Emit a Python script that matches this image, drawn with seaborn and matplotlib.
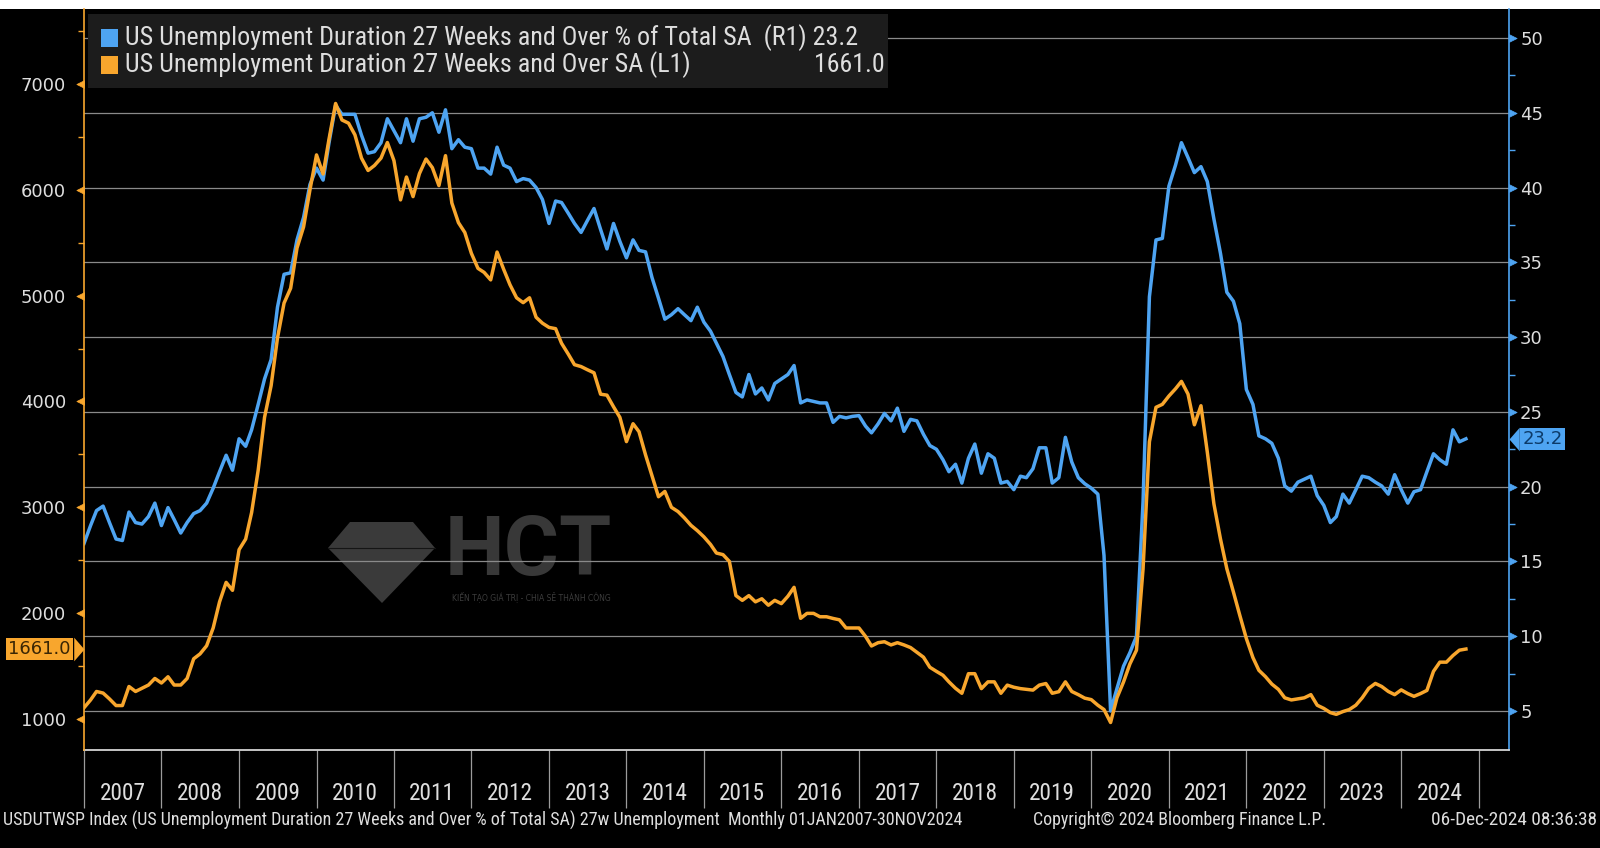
import numpy as np
import pandas as pd
import matplotlib
matplotlib.use("Agg")
import matplotlib.pyplot as plt
import matplotlib.dates as mdates
from matplotlib.path import Path
from matplotlib.markers import MarkerStyle
from matplotlib.patches import Rectangle, Polygon
from matplotlib import font_manager
import seaborn as sns

# ---------------- data (monthly, Jan 2007 - Nov 2024) ----------------
months = pd.date_range("2007-01-01", "2024-11-01", freq="MS")

# US Unemployment Duration 27 Weeks and Over SA (thousands) - left axis
lvl_2007 = [1106, 1180, 1260, 1245, 1190, 1127, 1127, 1307, 1260, 1290, 1321, 1383]
lvl_2008 = [1340, 1399, 1321, 1321, 1383, 1569, 1615, 1692, 1861, 2107, 2291, 2216]
lvl_2009 = [2600, 2700, 2950, 3350, 3850, 4150, 4600, 4930, 5070, 5450, 5650, 6000]
lvl_2010 = [6330, 6150, 6480, 6816, 6660, 6630, 6520, 6300, 6183, 6230, 6300, 6447]
lvl_2011 = [6276, 5905, 6121, 5936, 6153, 6291, 6210, 6040, 6323, 5875, 5690, 5597]
lvl_2012 = [5400, 5258, 5220, 5149, 5412, 5250, 5103, 4980, 4934, 4980, 4796, 4740]
lvl_2013 = [4700, 4688, 4550, 4450, 4348, 4330, 4300, 4271, 4069, 4060, 3950, 3850]
lvl_2014 = [3621, 3790, 3715, 3495, 3300, 3100, 3150, 3000, 2960, 2900, 2830, 2780]
lvl_2015 = [2721, 2650, 2568, 2553, 2489, 2166, 2121, 2166, 2107, 2136, 2075, 2121]
lvl_2016 = [2090, 2160, 2244, 1951, 1998, 1998, 1966, 1966, 1950, 1937, 1860, 1860]
lvl_2017 = [1860, 1780, 1690, 1721, 1730, 1700, 1721, 1700, 1675, 1630, 1584, 1489]
lvl_2018 = [1450, 1413, 1351, 1290, 1243, 1428, 1428, 1287, 1351, 1351, 1243, 1320]
lvl_2019 = [1300, 1287, 1280, 1273, 1320, 1335, 1243, 1258, 1351, 1260, 1230, 1197]
lvl_2020 = [1183, 1130, 1089, 967, 1200, 1350, 1520, 1650, 2418, 3620, 3945, 3973]
lvl_2021 = [4052, 4120, 4190, 4070, 3780, 3960, 3520, 3033, 2700, 2420, 2200, 1980]
lvl_2022 = [1760, 1580, 1460, 1400, 1330, 1280, 1200, 1180, 1190, 1200, 1230, 1130]
lvl_2023 = [1100, 1060, 1044, 1070, 1089, 1130, 1200, 1290, 1336, 1307, 1260, 1230]
lvl_2024 = [1275, 1240, 1214, 1240, 1270, 1450, 1537, 1537, 1600, 1650, 1661]

# US Unemployment Duration 27 Weeks and Over % of Total SA - right axis
pct_2007 = [16.2, 17.4, 18.4, 18.7, 17.6, 16.5, 16.4, 18.3, 17.6, 17.5, 18.0, 18.9]
pct_2008 = [17.4, 18.6, 17.8, 16.9, 17.6, 18.2, 18.4, 18.9, 19.9, 21.0, 22.1, 21.1]
pct_2009 = [23.2, 22.7, 23.8, 25.5, 27.2, 28.5, 32.0, 34.2, 34.3, 36.5, 38.0, 40.2]
pct_2010 = [41.3, 40.5, 43.0, 45.5, 44.9, 44.9, 44.9, 43.5, 42.3, 42.4, 43.0, 44.6]
pct_2011 = [43.8, 43.0, 44.6, 43.1, 44.6, 44.7, 45.0, 43.7, 45.2, 42.6, 43.2, 42.7]
pct_2012 = [42.6, 41.3, 41.3, 40.9, 42.7, 41.5, 41.3, 40.4, 40.6, 40.5, 40.0, 39.2]
pct_2013 = [37.6, 39.1, 39.0, 38.3, 37.6, 37.0, 37.8, 38.6, 37.2, 35.9, 37.6, 36.4]
pct_2014 = [35.3, 36.5, 35.8, 35.7, 34.0, 32.6, 31.2, 31.5, 31.9, 31.5, 31.1, 32.0]
pct_2015 = [31.0, 30.4, 29.6, 28.7, 27.5, 26.3, 26.0, 27.5, 26.2, 26.6, 25.8, 26.9]
pct_2016 = [27.2, 27.5, 28.1, 25.6, 25.8, 25.7, 25.6, 25.6, 24.3, 24.7, 24.6, 24.7]
pct_2017 = [24.75, 24.05, 23.6, 24.2, 24.9, 24.4, 25.25, 23.7, 24.5, 24.4, 23.5, 22.75]
pct_2018 = [22.5, 21.8, 21.0, 21.5, 20.24, 21.9, 22.85, 20.9, 22.2, 21.9, 20.24, 20.35]
pct_2019 = [19.8, 20.7, 20.6, 21.2, 22.6, 22.6, 20.24, 20.6, 23.3, 21.65, 20.6, 20.2]
pct_2020 = [19.9, 19.5, 15.4, 5.0, 6.5, 8.0, 8.9, 10.0, 19.0, 32.7, 36.5, 36.6]
pct_2021 = [40.1, 41.5, 43.0, 42.0, 41.0, 41.4, 40.4, 37.9, 35.6, 33.0, 32.4, 30.9]
pct_2022 = [26.5, 25.5, 23.4, 23.2, 22.9, 21.9, 20.05, 19.7, 20.3, 20.5, 20.7, 19.4]
pct_2023 = [18.75, 17.6, 18.0, 19.5, 18.9, 19.8, 20.7, 20.6, 20.3, 20.05, 19.5, 20.8]
pct_2024 = [19.8, 18.9, 19.66, 19.8, 21.0, 22.2, 21.8, 21.5, 23.8, 23.0, 23.2]

lvl = sum([lvl_2007, lvl_2008, lvl_2009, lvl_2010, lvl_2011, lvl_2012, lvl_2013, lvl_2014,
           lvl_2015, lvl_2016, lvl_2017, lvl_2018, lvl_2019, lvl_2020, lvl_2021, lvl_2022,
           lvl_2023, lvl_2024], [])
pct = sum([pct_2007, pct_2008, pct_2009, pct_2010, pct_2011, pct_2012, pct_2013, pct_2014,
           pct_2015, pct_2016, pct_2017, pct_2018, pct_2019, pct_2020, pct_2021, pct_2022,
           pct_2023, pct_2024], [])

left_ticks = [1000, 2000, 3000, 4000, 5000, 6000, 7000]
right_ticks = [5, 10, 15, 20, 25, 30, 35, 40, 45, 50]

legend_pct = "US Unemployment Duration 27 Weeks and Over % of Total SA  (R1) 23.2"
legend_lvl = "US Unemployment Duration 27 Weeks and Over SA (L1)"
footer_left = ("USDUTWSP Index (US Unemployment Duration 27 Weeks and Over % of Total SA) "
               "27w Unemployment  Monthly 01JAN2007-30NOV2024")
footer_mid = "Copyright\u00a9 2024 Bloomberg Finance L.P."
footer_right = "06-Dec-2024 08:36:38"

# ---------------- style ----------------
W, H = 1600, 848
BLUE = "#4ea4f2"
ORANGE = "#f8a62d"
TXT = "#dedede"
GRID = "#8a8a8a"

avail = {f.name for f in font_manager.fontManager.ttflist}
NARROW = next((f for f in ["Liberation Sans Narrow", "Roboto Condensed", "Open Sans Condensed"]
               if f in avail), "Liberation Sans")

fig = plt.figure(figsize=(W / 100, H / 100), dpi=100, facecolor="black")
fig.add_artist(Rectangle((0, 1 - 9 / H), 1, 9 / H, transform=fig.transFigure,
                         facecolor="white", edgecolor="none", zorder=0))

AX_L, AX_R, AX_T, AX_B = 84, 1509, 9, 750
ax_b = fig.add_axes([AX_L / W, 1 - AX_B / H, (AX_R - AX_L) / W, (AX_B - AX_T) / H])
ax_b.set_facecolor("black")


def pa(x, y):
    """pixel -> axes fraction"""
    return ((x - AX_L) / (AX_R - AX_L), (AX_B - y) / (AX_B - AX_T))


df = pd.DataFrame({"month": months, "pct": pct, "lvl": lvl})
ax_o = ax_b.twinx()
sns.lineplot(data=df, x="month", y="pct", ax=ax_b, color=BLUE, lw=2.5, legend=False)
sns.lineplot(data=df, x="month", y="lvl", ax=ax_o, color=ORANGE, lw=2.5, legend=False)

for a in (ax_b, ax_o):
    a.set_xlabel("")
    a.set_ylabel("")
    for s in a.spines.values():
        s.set_visible(False)
ax_b.spines["bottom"].set_visible(True)
ax_b.spines["bottom"].set_color("#d4d4d4")
ax_b.spines["bottom"].set_linewidth(1.3)
ax_b.spines["right"].set_visible(True)
ax_b.spines["right"].set_color(BLUE)
ax_b.spines["right"].set_linewidth(1.2)
ax_o.spines["left"].set_visible(True)
ax_o.spines["left"].set_color(ORANGE)
ax_o.spines["left"].set_linewidth(1.2)

ax_b.set_xlim(pd.Timestamp("2007-01-01"), pd.Timestamp("2025-05-23"))
ax_b.set_ylim(2.392, 51.94)
ax_o.set_ylim(707, 7708.7)

ax_b.yaxis.set_ticks_position("right")
ax_o.yaxis.set_ticks_position("left")
ax_b.set_yticks(right_ticks)
ax_b.set_yticks(np.arange(7.5, 50, 5), minor=True)
ax_o.set_yticks(left_ticks)
ax_o.set_yticks(np.arange(1500, 8000, 1000), minor=True)
ax_b.grid(axis="y", which="major", color=GRID, lw=0.9)
ax_b.grid(axis="x", visible=False)
ax_b.set_axisbelow(True)

ax_b.tick_params(axis="y", which="major", direction="out", length=5, width=1, color=BLUE,
                 pad=3, labelsize=13, labelcolor=TXT)
ax_b.tick_params(axis="y", which="minor", direction="out", length=4, width=1, color=BLUE)
ax_o.tick_params(axis="y", which="major", direction="out", length=10, width=1, color=ORANGE,
                 pad=3, labelsize=13, labelcolor=TXT)
ax_o.tick_params(axis="y", which="minor", direction="out", length=4, width=1, color=ORANGE)

tri_r = Path([(0, -0.5), (1, 0), (0, 0.5), (0, -0.5)],
             [Path.MOVETO, Path.LINETO, Path.LINETO, Path.CLOSEPOLY])
tri_l = Path([(0, -0.5), (-1, 0), (0, 0.5), (0, -0.5)],
             [Path.MOVETO, Path.LINETO, Path.LINETO, Path.CLOSEPOLY])
for t in ax_b.yaxis.get_major_ticks():
    t.tick2line.set_marker(MarkerStyle(tri_r))
    t.tick2line.set_markersize(11)
    t.tick2line.set_markerfacecolor(BLUE)
    t.tick2line.set_markeredgecolor(BLUE)
    t.tick2line.set_markeredgewidth(0.5)
for t in ax_o.yaxis.get_major_ticks():
    t.tick1line.set_marker(MarkerStyle(tri_l))
    t.tick1line.set_markersize(11)
    t.tick1line.set_markerfacecolor(ORANGE)
    t.tick1line.set_markeredgecolor(ORANGE)
    t.tick1line.set_markeredgewidth(0.5)

# measure narrow font for year labels
fig.canvas.draw()
R = fig.canvas.get_renderer()


def fit(t, target):
    w = t.get_window_extent(R).width
    t.set_fontsize(t.get_fontsize() * target / w)
    return t.get_fontsize()


tmp = fig.text(0, 0, "2007", fontsize=18, family=NARROW)
year_fs = fit(tmp, 46)
tmp.remove()

ax_b.xaxis.set_major_locator(mdates.YearLocator(1, month=7, day=1))
ax_b.xaxis.set_major_formatter(mdates.DateFormatter("%Y"))
ax_b.xaxis.set_minor_locator(mdates.YearLocator(1, month=1, day=1))
ax_b.tick_params(axis="x", which="major", length=0, pad=23, labelsize=year_fs,
                 labelcolor=TXT, labelfontfamily=NARROW)
ax_b.tick_params(axis="x", which="minor", length=42, width=0.9, color="#9c9c9c",
                 direction="out")

# ---------------- watermark ----------------
gem = [pa(350, 522), pa(413, 522), pa(435, 548), pa(382, 603), pa(328, 548)]
ax_b.add_patch(Polygon(gem, closed=True, transform=ax_b.transAxes, facecolor="#3a3a3a",
                       edgecolor="none", zorder=0.2))
ax_b.plot([pa(328, 548)[0], pa(435, 548)[0]], [pa(328, 548)[1]] * 2, transform=ax_b.transAxes,
          color="#151515", lw=0.8, zorder=0.25)
hx, hy = pa(445, 553)
t_hct = ax_b.text(hx, hy, "HCT", transform=ax_b.transAxes, ha="left", va="center",
                  fontsize=64, fontweight="bold", family="Roboto", color="#383838", zorder=0.3)
fit(t_hct, 167)
sx, sy = pa(452, 597)
t_sub = ax_b.text(sx, sy, "KIẾN TẠO GIÁ TRỊ - CHIA SẺ THÀNH CÔNG", transform=ax_b.transAxes,
                  ha="left", va="center", fontsize=6, color="#3c3c3c", zorder=0.3)
fit(t_sub, 160)

# ---------------- legend box ----------------
bx0, by0 = pa(88, 88)
bx1, by1 = pa(888, 14)
ax_o.add_patch(Rectangle((bx0, by0), bx1 - bx0, by1 - by0, transform=ax_o.transAxes,
                         facecolor="#1c1c1c", edgecolor="none", zorder=10))
for (yc, col) in [(38, BLUE), (65, ORANGE)]:
    sx0, sy0 = pa(101, yc + 9)
    sx1, sy1 = pa(118, yc - 9)
    ax_o.add_patch(Rectangle((sx0, sy0), sx1 - sx0, sy1 - sy0, transform=ax_o.transAxes,
                             facecolor=col, edgecolor="none", zorder=11))
tx, ty = pa(125, 38)
t1 = ax_o.text(tx, ty, legend_pct, transform=ax_o.transAxes, ha="left", va="center",
               fontsize=16, family=NARROW, color=TXT, zorder=12)
lfs = fit(t1, 733)
tx, ty = pa(125, 65)
ax_o.text(tx, ty, legend_lvl, transform=ax_o.transAxes, ha="left", va="center",
          fontsize=lfs, family=NARROW, color=TXT, zorder=12)
tx, ty = pa(885, 65)
ax_o.text(tx, ty, f"{lvl[-1]:.1f}", transform=ax_o.transAxes, ha="right", va="center",
          fontsize=lfs, family=NARROW, color=TXT, zorder=12)

# ---------------- last-value tags ----------------
ptr_r = Path([(0, 0), (-0.87, 1), (-0.87, -1), (0, 0)],
             [Path.MOVETO, Path.LINETO, Path.LINETO, Path.CLOSEPOLY])
ptr_l = Path([(0, 0), (0.87, 1), (0.87, -1), (0, 0)],
             [Path.MOVETO, Path.LINETO, Path.LINETO, Path.CLOSEPOLY])
ax_o.annotate(f"{lvl[-1]:.1f}", xy=(0, lvl[-1]), xycoords=ax_o.get_yaxis_transform(),
              xytext=(-9.5, 0), textcoords="offset points", ha="right", va="center",
              fontsize=13, color="#3a2604", annotation_clip=False, zorder=13,
              bbox=dict(boxstyle="square,pad=0.12", fc=ORANGE, ec="none"))
ax_o.plot([0], [lvl[-1]], transform=ax_o.get_yaxis_transform(), marker=MarkerStyle(ptr_r),
          ms=17, color=ORANGE, mec="none", clip_on=False, zorder=13)
ax_b.annotate(f"{pct[-1]:.1f}", xy=(1, pct[-1]), xycoords=ax_b.get_yaxis_transform(),
              xytext=(9.5, 0), textcoords="offset points", ha="left", va="center",
              fontsize=13, color="#0c3a68", annotation_clip=False, zorder=13,
              bbox=dict(boxstyle="square,pad=0.12", fc=BLUE, ec="none"))
ax_b.plot([1], [pct[-1]], transform=ax_b.get_yaxis_transform(), marker=MarkerStyle(ptr_l),
          ms=17, color=BLUE, mec="none", clip_on=False, zorder=13)

# ---------------- footer ----------------
fy = 1 - 820 / H
f1 = fig.text(3 / W, fy, footer_left, ha="left", va="center", fontsize=12, family=NARROW, color=TXT)
fit(f1, 955)
f2 = fig.text(1033 / W, fy, footer_mid, ha="left", va="center", fontsize=12, family=NARROW, color=TXT)
fit(f2, 292)
f3 = fig.text(1597 / W, fy, footer_right, ha="right", va="center", fontsize=12, family=NARROW, color=TXT)
fit(f3, 165)

fig.savefig("out.png", dpi=100, facecolor="black")
